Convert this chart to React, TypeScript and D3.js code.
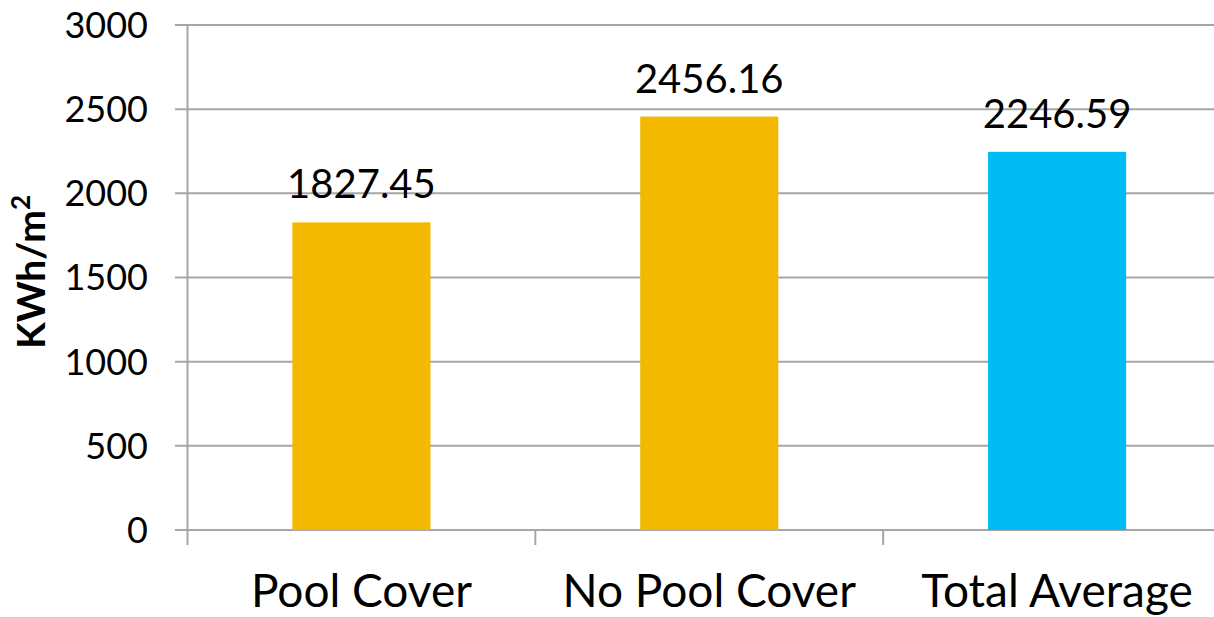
import React from "react";
import * as d3 from "d3";

const categories = ["Pool Cover", "No Pool Cover", "Total Average"];
const values = [1827.45, 2456.16, 2246.59];
const barColors = ["#F2B900", "#F2B900", "#00BCF2"];
const yTicks = [0, 500, 1000, 1500, 2000, 2500, 3000];

const W = 1214;
const H = 617;
const FONT = "Lato, 'Open Sans', sans-serif";

export default function App() {
  const left = 187.5;
  const right = 1231;
  const top = 25;
  const bottom = 530;
  const x = d3.scaleBand<string>().domain(categories).range([left, right]).paddingInner(0).paddingOuter(0);
  const y = d3.scaleLinear().domain([0, 3000]).range([bottom, top]);
  const bw = x.bandwidth() * 0.397;
  const grid = "#A6A6A6";

  return (
    <svg width={W} height={H} style={{ position: "absolute", left: 0, top: 0, background: "#fff" }}>
      {yTicks.map((t) => (
        <g key={t}>
          <line x1={175} x2={W} y1={y(t)} y2={y(t)} stroke={grid} strokeWidth={2} />
          <text x={148} y={y(t)} dy="0.36em" textAnchor="end" fontFamily={FONT} fontSize={36} fill="#000">
            {t}
          </text>
        </g>
      ))}
      <line x1={left} x2={left} y1={top} y2={545} stroke={grid} strokeWidth={2} />
      {categories.map((c) => (
        <line key={c + "t"} x1={(x(c) as number) + x.bandwidth()} x2={(x(c) as number) + x.bandwidth()} y1={bottom} y2={545} stroke={grid} strokeWidth={2} />
      ))}
      {categories.map((c, i) => {
        const cx = (x(c) as number) + x.bandwidth() / 2;
        return (
          <g key={c}>
            <rect x={cx - bw / 2} y={y(values[i])} width={bw} height={bottom - y(values[i])} fill={barColors[i]} />
            <text x={cx} y={y(values[i]) - 24} textAnchor="middle" fontFamily={FONT} fontSize={40} fill="#000">
              {values[i].toFixed(2)}
            </text>
            <text x={cx} y={607} textAnchor="middle" fontFamily={FONT} fontSize={46} fill="#000">
              {c}
            </text>
          </g>
        );
      })}
      <text
        transform={`translate(45, 272) rotate(-90)`}
        textAnchor="middle"
        fontFamily={FONT}
        fontSize={39}
        fontWeight="bold"
        fill="#000"
      >
        KWh/m<tspan dy="-15" fontSize={26}>2</tspan>
      </text>
    </svg>
  );
}
